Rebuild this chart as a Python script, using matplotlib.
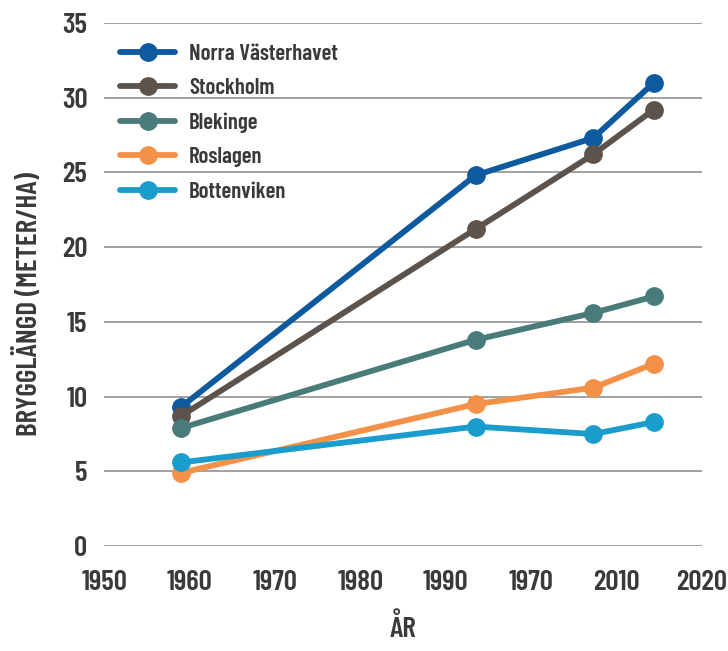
import matplotlib.pyplot as plt

# Data
years = [1959, 1993.5, 2007.3, 2014.4]
norra_vasterhavet = [9.3, 24.8, 27.3, 31.0]
stockholm = [8.7, 21.2, 26.2, 29.2]
blekinge = [7.9, 13.8, 15.6, 16.7]
roslagen = [4.9, 9.5, 10.6, 12.2]
bottenviken = [5.6, 8.0, 7.5, 8.3]

series = [
    ("Norra Västerhavet", norra_vasterhavet, "#0d5a9e"),
    ("Stockholm", stockholm, "#5c544c"),
    ("Blekinge", blekinge, "#4a7b7b"),
    ("Roslagen", roslagen, "#f39149"),
    ("Bottenviken", bottenviken, "#1a9dcc"),
]

xticks = [1950, 1960, 1970, 1980, 1990, 2000, 2010, 2020]
xtick_labels = ["1950", "1960", "1970", "1980", "1990", "1970", "2010", "2020"]
yticks = [0, 5, 10, 15, 20, 25, 30, 35]

plt.rcParams['font.family'] = ['Barlow Condensed', 'DejaVu Sans']
text_color = "#3a3a3a"

fig = plt.figure(figsize=(7.28, 6.51), dpi=100)
ax = fig.add_axes([0.143, 0.161, 0.821, 0.804])

for name, values, color in series:
    ax.plot(years, values, color=color, linewidth=4.2, marker='o',
            markersize=12.5, label=name, solid_capstyle='round')

ax.set_xlim(1950, 2020)
ax.set_ylim(0, 35)
ax.set_xticks(xticks)
ax.set_xticklabels(xtick_labels)
ax.set_yticks(yticks)

ax.grid(axis='y', color='#9a9a9a', linewidth=1.3)
ax.set_axisbelow(True)
for spine in ax.spines.values():
    spine.set_visible(False)
ax.tick_params(axis='both', length=0, labelsize=21, colors=text_color)
ax.tick_params(axis='x', pad=17)
ax.tick_params(axis='y', pad=12)
for lbl in ax.get_xticklabels() + ax.get_yticklabels():
    lbl.set_fontweight(600)

ax.set_ylabel("BRYGGLÄNGD (METER/HA)", fontsize=21, fontweight=600,
              color=text_color)
ax.yaxis.set_label_coords(-0.104, 0.463)
ax.set_xlabel("ÅR", fontsize=21, fontweight=600, color=text_color,
              labelpad=13)

leg = ax.legend(loc='upper left', bbox_to_anchor=(0.0, 0.99), frameon=False,
                handlelength=2.4, labelspacing=0.62, fontsize=16.5,
                borderaxespad=0.3, handletextpad=0.6)
for t in leg.get_texts():
    t.set_fontweight(600)
    t.set_color(text_color)

fig.savefig("out.png", dpi=100)
